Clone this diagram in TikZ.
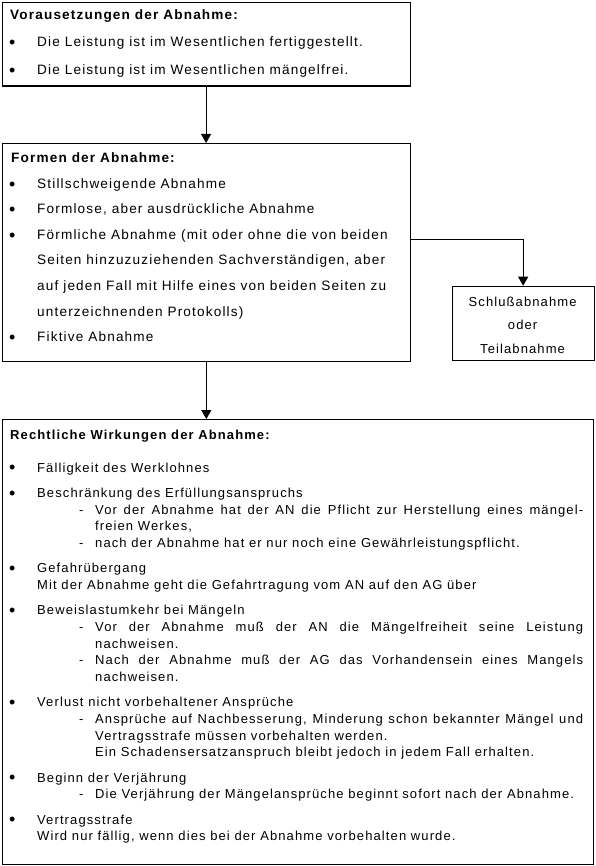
\documentclass[tikz,border=0pt]{standalone}
\usepackage{fontspec}
\setmainfont{Liberation Sans}[LetterSpace=8.5]
\usetikzlibrary{arrows.meta}
\begin{document}
\begin{tikzpicture}[x=1pt,y=-1pt,
  frame/.style={draw, line width=1.1pt, inner sep=0pt, anchor=north west},
  txt/.style={inner sep=0pt, anchor=base west, font=\fontsize{13}{16}\selectfont},
  txtl/.style={inner sep=0pt, anchor=base west, font=\fontsize{13.6}{16}\selectfont},
  ttl/.style={inner sep=0pt, anchor=base west, font=\fontsize{13}{16}\selectfont\bfseries},
  ttll/.style={inner sep=0pt, anchor=base west, font=\fontsize{13.6}{16}\selectfont\bfseries},
  ctr/.style={inner sep=0pt, anchor=base, font=\fontsize{13}{16}\selectfont},
  bul/.style={inner sep=0pt, anchor=base, yshift=-1.6pt, font=\fontsize{18}{18}\selectfont},
  conn/.style={line width=0.9pt, -{Triangle[width=10pt,length=9pt]}}]
\useasboundingbox (0,0) rectangle (595,866);
% frames
\node[frame, minimum width=408pt, minimum height=83.7pt] (b1) at (1.5,1.8) {};
\node[frame, minimum width=408.5pt, minimum height=218pt] (b2) at (1.5,143) {};
\node[frame, minimum width=141.8pt, minimum height=74.3pt] (b4) at (451.7,285.7) {};
\node[frame, minimum width=591.5pt, minimum height=444.7pt] (b3) at (1.5,419) {};
% connectors
\draw[conn] (b1.south) -- (b1.south |- b2.north);
\draw[conn] (b2.south) -- (b2.south |- b3.north);
\draw[conn] (b2.east |- 0,239) -| (b4.north);
% box 1
\node[ttll] (a0) at (10,19.5) {Vorausetzungen der Abnahme:};
\node[bul] (a1b) at (12.3,46.7) {•};
\node[txtl] (a1) at (37,46.7) {Die Leistung ist im Wesentlichen fertiggestellt.};
\node[bul] (a2b) at (12.3,75) {•};
\node[txtl] (a2) at (37,75) {Die Leistung ist im Wesentlichen mängelfrei.};
% box 2
\node[ttll] (f0) at (11,162.5) {Formen der Abnahme:};
\node[bul] (f1b) at (12.3,188.5) {•};
\node[txtl] (f1) at (37,188.5) {Stillschweigende Abnahme};
\node[bul] (f2b) at (12.3,214) {•};
\node[txtl] (f2) at (37,214) {Formlose, aber ausdrückliche Abnahme};
\node[bul] (f3b) at (12.3,239.5) {•};
\node[txtl] (f3) at (37,239.5) {Förmliche Abnahme (mit oder ohne die von beiden};
\node[txtl] (f4) at (37,265) {Seiten hinzuzuziehenden Sachverständigen, aber};
\node[txtl] (f5) at (37,290.5) {auf jeden Fall mit Hilfe eines von beiden Seiten zu};
\node[txtl] (f6) at (37,316) {unterzeichnenden Protokolls)};
\node[bul] (f7b) at (12.3,341.5) {•};
\node[txtl] (f7) at (37,341.5) {Fiktive Abnahme};
% box 4
\node[ctr] (s1) at (522.6,306) {Schlußabnahme};
\node[ctr] (s2) at (522.6,329.5) {oder};
\node[ctr] (s3) at (522.6,353.3) {Teilabnahme};
% box 3
\node[ttl] (r0) at (10,439) {Rechtliche Wirkungen der Abnahme:};
\node[bul] (r1b) at (12.3,472) {•};
\node[txt] (r1) at (37,472) {Fälligkeit des Werklohnes};
\node[bul] (r2b) at (12.3,497.5) {•};
\node[txt] (r2) at (37,497.5) {Beschränkung des Erfüllungsanspruchs};
\node[txt] (r2d1) at (79,514.1) {-};
\node[txt] (r2a) at (95,514.1) {\makebox[488pt][s]{Vor der Abnahme hat der AN die Pflicht zur Herstellung eines mängel-}};
\node[txt] (r2a2) at (95,530.7) {freien Werkes,};
\node[txt] (r2d2) at (79,547.3) {-};
\node[txt] (r2b2) at (95,547.3) {nach der Abnahme hat er nur noch eine Gewährleistungspflicht.};
\node[bul] (r3b) at (12.3,572.8) {•};
\node[txt] (r3) at (37,572.8) {Gefahrübergang};
\node[txt] (r3a) at (37,589.4) {Mit der Abnahme geht die Gefahrtragung vom AN auf den AG über};
\node[bul] (r4b) at (12.3,614.9) {•};
\node[txt] (r4) at (37,614.9) {Beweislastumkehr bei Mängeln};
\node[txt] (r4d1) at (79,631.5) {-};
\node[txt] (r4a) at (95,631.5) {\makebox[488pt][s]{Vor der Abnahme muß der AN die Mängelfreiheit seine Leistung}};
\node[txt] (r4a2) at (95,648.1) {nachweisen.};
\node[txt] (r4d2) at (79,664.7) {-};
\node[txt] (r4c) at (95,664.7) {\makebox[488pt][s]{Nach der Abnahme muß der AG das Vorhandensein eines Mangels}};
\node[txt] (r4c2) at (95,681.3) {nachweisen.};
\node[bul] (r5b) at (12.3,706.8) {•};
\node[txt] (r5) at (37,706.8) {Verlust nicht vorbehaltener Ansprüche};
\node[txt] (r5d1) at (79,723.4) {-};
\node[txt] (r5a) at (95,723.4) {\makebox[488pt][s]{Ansprüche auf Nachbesserung, Minderung schon bekannter Mängel und}};
\node[txt] (r5a2) at (95,740) {Vertragsstrafe müssen vorbehalten werden.};
\node[txt] (r5a3) at (95,756.6) {Ein Schadensersatzanspruch bleibt jedoch in jedem Fall erhalten.};
\node[bul] (r6b) at (12.3,782.1) {•};
\node[txt] (r6) at (37,782.1) {Beginn der Verjährung};
\node[txt] (r6d1) at (79,798.7) {-};
\node[txt] (r6a) at (95,798.7) {Die Verjährung der Mängelansprüche beginnt sofort nach der Abnahme.};
\node[bul] (r7b) at (12.3,824.2) {•};
\node[txt] (r7) at (37,824.2) {Vertragsstrafe};
\node[txt] (r7a) at (37,840.8) {Wird nur fällig, wenn dies bei der Abnahme vorbehalten wurde.};
\end{tikzpicture}
\end{document}
